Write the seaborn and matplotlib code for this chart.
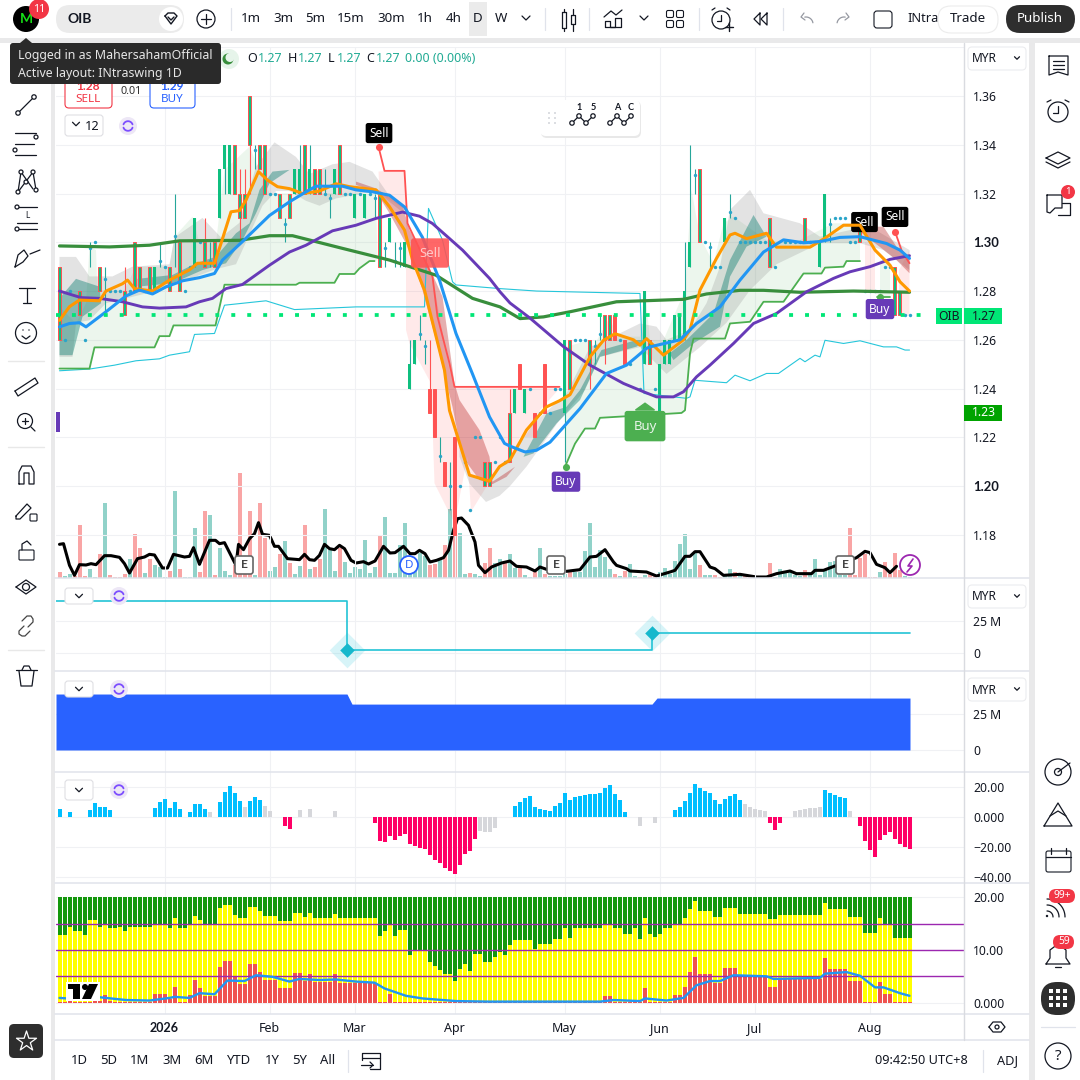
import numpy as np
import pandas as pd
import matplotlib
matplotlib.use('Agg')
import matplotlib.pyplot as plt
from matplotlib.patches import Circle, FancyBboxPatch, Polygon
import seaborn as sns

# --- bars, one value per session ---
volume = [17, 5, 11, 5, 158, 5, 26, 3, 71, 224,
          8, 3, 3, 11, 56, 131, 89, 14, 56, 38,
          32, 3, 20, 260, 26, 3, 3, 149, 17, 200,
          188, 8, 89, 20, 8, 40, 314, 20, 200, 10,
          224, 119, 20, 32, 71, 110, 44, 11, 35, 158,
          26, 32, 56, 206, 83, 20, 89, 47, 14, 32,
          26, 113, 14, 32, 128, 182, 14, 14, 98, 164,
          12, 23, 74, 65, 38, 41, 56, 98, 206, 400,
          134, 11, 14, 11, 5, 44, 89, 44, 56, 47,
          71, 29, 35, 8, 3, 17, 89, 11, 5, 5,
          5, 13, 17, 17, 17, 80, 164, 32, 83, 62,
          26, 11, 5, 20, 41, 5, 3, 8, 14, 5,
          17, 29, 11, 50, 101, 131, 26, 74, 38, 8,
          8, 8, 2, 8, 26, 17, 11, 5, 5, 2,
          2, 2, 44, 2, 26, 20, 17, 8, 5, 23,
          11, 56, 8, 26, 47, 50, 10, 10, 149, 8,
          59, 73, 2, 2, 17, 47, 11, 74, 23, 5, 2]
volume_red = [0, 3, 4, 5, 8, 10, 11, 12, 13, 15, 16, 18, 22, 24, 28, 29, 31, 35, 36, 37, 38, 40, 41,
              44, 46, 49, 51, 52, 56, 64, 74, 75, 77, 79, 82, 85, 86, 89, 92, 95, 97, 102, 111, 113,
              116, 118, 119, 128, 131, 132, 135, 137, 138, 142, 149, 158, 159, 160, 161, 162, 163,
              165, 166, 167, 168]

hist = [5.6, 0, 3.6, 0, 0, 0, 4.9, 9.6, 6.9, 6.9,
        4.9, 0, 0, 0, 0, 0, 0, 0, 0, 6.2,
        10.2, 12.2, 6.2, 10.2, 5.6, 0, 3.6, 8.9, 8.9, 5.6,
        3.6, 0, 10.2, 16.9, 20.9, 16.2, 10.9, 6.9, 10.9, 13.6,
        11.6, 7.6, 4.2, 0, 0, -5.8, -7.8, 0, 4.9, 0,
        5.6, 0, 0, 0, 0, 4.2, 0, 0, 0, 0,
        0, 0, 0, -3.8, -15.8, -16.4, -12.4, -15.1, -12.4, -11.1,
        -17.8, -19.1, -20.4, -21.1, -25.1, -28.4, -30.4, -33.8, -35.8, -37.8,
        -31.8, -24.4, -22.4, -14.4, -9.1, -9.8, -9.8, -7.1, 0, 0,
        0, 7.6, 10.2, 12.9, 14.2, 6.9, 5.6, 4.9, 4.2, 7.6,
        9.6, 16.2, 11.6, 13.6, 14.2, 14.9, 15.6, 15.6, 16.2, 19.6,
        21.6, 15.6, 11.6, 3.6, 0, 0, -5.8, 0, 0, -3.8,
        0, 0, 0, 4.9, 6.9, 10.9, 16.2, 22.2, 19.6, 17.6,
        16.2, 11.6, 8.9, 12.2, 14.2, 15.6, 11.6, 8.9, 6.9, 5.6,
        4.9, 4.2, -3.8, -8.4, -3.8, 0, 0, 4.2, 4.9, 5.6,
        6.2, 6.2, 6.9, 18.2, 16.2, 14.9, 13.6, 12.9, 4.2, 0,
        -5.8, -15.8, -21.8, -26.4, -15.1, -11.8, -9.8, -14.4, -17.8, -19.8, -21.1]
hist_gray = [30, 37, 41, 42, 48, 50, 55, 84, 85, 86, 87, 116, 119, 137, 138, 139, 140, 141,
             147, 148, 149, 150, 151, 152, 158]

stack_top = [20.0] * 171
yellow_top = [12.8, 12.8, 14.3, 13.5, 13.5, 12.8, 15.6, 15.6, 14.3, 14.8,
              14.1, 14.1, 14.3, 13.5, 14.3, 14.3, 14.3, 14.3, 14.3, 14.8,
              14.8, 14.8, 14.1, 16.0, 14.1, 14.1, 14.8, 16.5, 15.6, 14.8,
              14.8, 14.8, 17.9, 18.6, 18.6, 16.7, 16.0, 16.0, 18.2, 18.2,
              17.3, 16.4, 16.4, 16.4, 15.4, 15.4, 15.4, 17.1, 17.1, 16.2,
              17.1, 16.0, 16.0, 16.0, 16.0, 16.9, 16.0, 16.0, 16.0, 16.0,
              16.0, 16.0, 16.0, 16.0, 12.6, 13.5, 14.7, 12.6, 13.7, 13.7,
              9.0, 9.9, 9.9, 9.9, 7.7, 6.9, 6.2, 5.4, 5.4, 4.1,
              6.4, 7.3, 6.0, 9.2, 9.2, 7.7, 7.7, 8.6, 9.7, 9.0,
              10.9, 11.8, 11.8, 11.8, 11.8, 10.1, 11.1, 11.1, 11.1, 12.0,
              12.0, 14.1, 12.2, 14.1, 14.1, 14.1, 14.1, 14.1, 14.1, 14.8,
              14.8, 14.1, 14.1, 13.0, 13.0, 14.1, 12.0, 16.0, 13.1, 12.4,
              13.1, 14.1, 14.1, 14.8, 14.8, 16.0, 17.7, 19.2, 17.3, 17.3,
              17.3, 16.2, 16.2, 17.9, 17.9, 17.9, 16.9, 16.9, 16.9, 16.9,
              16.9, 16.9, 15.8, 15.8, 16.7, 16.7, 16.7, 16.7, 16.7, 16.7,
              16.7, 16.7, 16.7, 19.0, 17.7, 17.7, 17.7, 17.7, 16.2, 16.2,
              16.2, 13.3, 13.3, 13.3, 16.0, 14.7, 14.7, 12.2, 12.2, 12.2, 12.2]
red_top = [.1, .1, .4, .1, .1, .1, .1, .6, .3, 1.4,
           .3, .1, .1, .1, .1, .1, .1, .1, .1, 1.6,
           1.6, 1.6, .7, 3.0, .1, .1, 1.4, 4.3, 2.8, 1.3,
           1.3, 1.3, 6.7, 7.9, 7.9, 4.8, 3.5, 3.5, 7.3, 7.3,
           5.8, 4.3, 4.3, 4.3, 2.8, 2.8, 2.8, 5.6, 5.6, 4.1,
           5.4, 3.9, 3.9, 3.9, 3.9, 5.4, 3.7, 3.7, 3.7, 3.7,
           3.7, 3.7, 3.7, 3.7, .1, .1, 1.6, .1, .1, .1,
           .1, .1, .1, .1, .1, .1, .1, .1, .1, .1,
           .1, .1, .1, .1, .1, .1, .1, .1, .1, .1,
           .1, .1, .1, .1, .1, .1, .1, .1, .1, .1,
           .1, .1, .1, .1, .1, .1, .1, .1, .1, 1.3,
           1.3, .1, .1, .1, .1, .1, .1, 2.8, .1, .1,
           .1, .1, .1, 1.4, 1.4, 3.0, 5.8, 8.6, 5.4, 5.4,
           5.4, 3.7, 3.7, 6.5, 6.5, 6.5, 5.0, 5.0, 5.0, 5.0,
           5.0, 5.0, 3.0, 3.0, 4.5, 4.5, 4.5, 4.5, 4.5, 4.5,
           4.5, 4.5, 4.5, 8.4, 6.4, 6.4, 6.4, 6.4, 4.1, 4.1,
           4.1, .1, .1, .1, 3.9, 1.6, 1.6, .1, .1, .1, .1]

# --- candles: session, body top, body bottom, high, low ---
green_i = [19, 27, 32, 33, 34, 47, 48, 50, 55, 59, 61, 66, 69, 70, 71, 91, 93, 101, 117, 120, 121, 122,
           123, 124, 125, 126, 133, 152, 153]
green_top = [1.29, 1.31, 1.33, 1.34, 1.34, 1.33, 1.33, 1.33, 1.33, 1.32, 1.32, 1.31, 1.30, 1.25, 1.26, 1.24,
             1.24, 1.26, 1.28, 1.25, 1.26, 1.26, 1.27, 1.27, 1.28, 1.30, 1.31, 1.30, 1.32]
green_bot = [1.28, 1.29, 1.31, 1.33, 1.32, 1.32, 1.32, 1.32, 1.32, 1.31, 1.31, 1.30, 1.29, 1.24, 1.25, 1.23,
             1.23, 1.23, 1.25, 1.23, 1.25, 1.25, 1.26, 1.26, 1.26, 1.29, 1.30, 1.29, 1.30]
green_high = [1.29, 1.31, 1.33, 1.34, 1.34, 1.33, 1.34, 1.34, 1.33, 1.32, 1.32, 1.31, 1.30, 1.26, 1.26, 1.24,
              1.24, 1.26, 1.28, 1.25, 1.26, 1.26, 1.27, 1.27, 1.30, 1.34, 1.31, 1.30, 1.32]
green_low = [1.28, 1.29, 1.31, 1.32, 1.32, 1.32, 1.32, 1.32, 1.32, 1.31, 1.31, 1.30, 1.29, 1.24, 1.25, 1.23,
             1.23, 1.21, 1.25, 1.23, 1.25, 1.25, 1.26, 1.26, 1.26, 1.29, 1.30, 1.29, 1.30]

red_i = [0, 4, 8, 13, 15, 16, 18, 22, 24, 29, 31, 35, 36, 37, 38, 40, 41, 44, 46, 49, 51, 52, 56, 64,
         74, 75, 77, 79, 85, 86, 90, 92, 95, 97, 102, 106, 109, 110, 111, 113, 118, 128, 142, 149, 160, 167, 168]
red_body_top = [1.29, 1.28, 1.29, 1.28, 1.30, 1.29, 1.29, 1.29, 1.30, 1.30, 1.30, 1.34, 1.32, 1.32, 1.36, 1.34,
                1.34, 1.32, 1.32, 1.34, 1.33, 1.33, 1.34, 1.32,
                1.24, 1.24, 1.21, 1.22, 1.21, 1.21, 1.23, 1.25, 1.23, 1.25, 1.26, 1.26, 1.27, 1.27, 1.27, 1.26,
                1.26, 1.33, 1.31, 1.31, 1.31, 1.29, 1.28]
red_bot = [1.26, 1.27, 1.28, 1.27, 1.28, 1.28, 1.28, 1.28, 1.28, 1.29, 1.29, 1.32, 1.31, 1.31, 1.34, 1.33,
           1.32, 1.31, 1.31, 1.32, 1.32, 1.32, 1.32, 1.29,
           1.23, 1.22, 1.20, 1.18, 1.20, 1.20, 1.21, 1.24, 1.22, 1.23, 1.24, 1.25, 1.26, 1.26, 1.26, 1.25,
           1.25, 1.30, 1.29, 1.30, 1.30, 1.27, 1.27]
red_high = [1.29, 1.28, 1.29, 1.29, 1.30, 1.29, 1.29, 1.29, 1.30, 1.31, 1.30, 1.34, 1.33, 1.33, 1.36, 1.34,
            1.34, 1.32, 1.32, 1.34, 1.33, 1.33, 1.34, 1.32,
            1.26, 1.24, 1.21, 1.22, 1.21, 1.21, 1.24, 1.25, 1.23, 1.25, 1.26, 1.26, 1.27, 1.27, 1.27, 1.26,
            1.26, 1.33, 1.31, 1.31, 1.31, 1.29, 1.28]
red_low = [1.26, 1.27, 1.28, 1.27, 1.28, 1.28, 1.28, 1.28, 1.28, 1.29, 1.29, 1.32, 1.30, 1.31, 1.32, 1.33,
           1.32, 1.31, 1.31, 1.32, 1.32, 1.32, 1.32, 1.29,
           1.23, 1.22, 1.20, 1.18, 1.20, 1.20, 1.21, 1.24, 1.22, 1.23, 1.24, 1.24, 1.25, 1.26, 1.26, 1.25,
           1.25, 1.30, 1.29, 1.30, 1.30, 1.27, 1.27]
red_solid = [74, 75, 77, 79, 92, 95, 97, 111, 113]

flat_i = [1, 2, 5, 7, 10, 11, 12, 14, 17, 21, 25, 26, 28, 42, 43, 57, 58, 60, 62, 80, 81, 82, 83, 84, 87, 88, 89,
          94, 96, 98, 99, 100, 103, 104, 105, 112, 114, 116, 119, 129, 131, 132, 135, 136, 137, 138, 139, 140, 141,
          143, 145, 146, 147, 148, 150, 151, 155, 156, 157, 158, 159, 161, 162, 163, 164, 165, 166, 169, 170]
flat_p = [1.26, 1.28, 1.26, 1.30, 1.28, 1.28, 1.28, 1.28, 1.28, 1.29, 1.28, 1.29, 1.30, 1.32, 1.32, 1.32, 1.32,
          1.32, 1.32, 1.20, 1.21, 1.19, 1.22, 1.22, 1.21, 1.22, 1.21,
          1.24, 1.23, 1.23, 1.24, 1.24, 1.26, 1.26, 1.26, 1.26, 1.25, 1.24, 1.24, 1.30, 1.29, 1.29, 1.31, 1.30,
          1.30, 1.30, 1.30, 1.30, 1.30, 1.29, 1.30, 1.30, 1.30, 1.30, 1.30, 1.30, 1.31, 1.31, 1.31, 1.30, 1.30,
          1.28, 1.28, 1.28, 1.28, 1.29, 1.29, 1.27, 1.27]
doji_i = [6, 9, 20, 23, 30, 39, 45, 53, 54, 63, 65, 67, 68, 72, 73, 76, 78, 107, 108, 127, 130, 134, 154]
doji_p = [1.2975, 1.285, 1.2925, 1.3025, 1.2925, 1.338, 1.3075, 1.32, 1.318, 1.318, 1.2975, 1.2925, 1.2975,
          1.2625, 1.2575, 1.2125, 1.20, 1.2575, 1.2625, 1.3275, 1.298, 1.3125, 1.3075]
doji_high = [1.30, 1.29, 1.30, 1.32, 1.30, 1.34, 1.31, 1.33, 1.32, 1.32, 1.30, 1.30, 1.30, 1.27, 1.26, 1.22, 1.21,
             1.26, 1.27, 1.33, 1.30, 1.32, 1.31]
doji_low = [1.29, 1.27, 1.29, 1.29, 1.29, 1.33, 1.30, 1.32, 1.31, 1.31, 1.29, 1.29, 1.29, 1.26, 1.25, 1.21, 1.19,
            1.25, 1.26, 1.32, 1.29, 1.31, 1.30]

# --- moving averages, read as corner points (session, price) ---
orange_i = [0, 2, 4, 8, 9.3, 12.6, 13.6, 15, 18.6, 22, 26, 27.6, 31, 32.3, 34.3, 36, 37.3, 39.8, 41.6, 43.6, 46, 48.6,
            52, 55.3, 58, 63.3, 66, 69, 70.6, 73, 77, 78, 82, 86, 88, 90.1, 93.4, 97.4, 100, 102.1, 106.1, 108.8,
            111.1, 114.8, 116.1, 117.4, 120.8, 124.8, 126.1, 128.1, 131.4, 134.1, 135.1, 137.4, 141.4, 143.4, 150.1,
            153.1, 156.8, 160.1, 163.1, 166.1, 168.1, 170]
orange_p = [1.268, 1.2736, 1.2763, 1.276, 1.28, 1.283, 1.2845, 1.281, 1.28, 1.2845, 1.2887, 1.2914, 1.2914, 1.2995,
            1.3125, 1.313, 1.3173, 1.329, 1.3255, 1.3228, 1.322, 1.32, 1.321, 1.324, 1.3228, 1.3215, 1.3146, 1.305,
            1.2927, 1.2804, 1.2475, 1.231, 1.2045, 1.202, 1.208, 1.2107, 1.223, 1.2325, 1.235, 1.2375, 1.253, 1.2598,
            1.2625, 1.26, 1.2578, 1.2605, 1.2537, 1.26, 1.264, 1.2804, 1.2934, 1.303, 1.3037, 1.3015, 1.3037, 1.298,
            1.298, 1.3017, 1.307, 1.307, 1.2968, 1.2906, 1.2838, 1.28]
blue_i = [0, 2, 4, 5.3, 9.3, 13.3, 16, 18.6, 21.3, 24.6, 28, 31, 32.6, 36.6, 42, 46, 49.3, 51.3, 56.6, 59.3, 62.6, 66,
          69, 72.6, 76, 79.3, 82.6, 86, 89, 90.1, 93.1, 95.4, 98.1, 104.1, 109.4, 113.4, 115.4, 117.4, 118.1, 124.1,
          127.4, 132.1, 136.1, 140.8, 144.8, 148.8, 152.1, 156.1, 160.1, 165.4, 168.1, 170]
blue_p = [1.2653, 1.2667, 1.267, 1.2653, 1.2715, 1.278, 1.2804, 1.2788, 1.2817, 1.2842, 1.2855, 1.2872, 1.2927, 1.3003,
          1.311, 1.3166, 1.3207, 1.323, 1.323, 1.3215, 1.3207, 1.3193, 1.3145, 1.302, 1.2845, 1.2626, 1.246, 1.2284,
          1.2175, 1.2164, 1.214, 1.2147, 1.218, 1.2318, 1.2462, 1.2496, 1.253, 1.2565, 1.2571, 1.26, 1.2667, 1.2735,
          1.2845, 1.296, 1.301, 1.2998, 1.3003, 1.302, 1.3023, 1.2995, 1.2968, 1.2934]
purple_i = [0, 4.3, 8, 12.6, 16.6, 20, 25.3, 28, 30.6, 33.3, 36.6, 42, 46, 49.3, 54.6, 59.3, 63.3, 68.6, 72, 74.6, 80.6,
            86, 88.1, 90.1, 94.1, 100.8, 106.1, 112.8, 116.8, 119.4, 122.8, 124.8, 127.4, 130.1, 134.8, 138.8, 143.4,
            149.4, 154.8, 158.1, 162.1, 166.1, 170]
purple_p = [1.28, 1.2773, 1.277, 1.2756, 1.2735, 1.273, 1.2735, 1.2756, 1.277, 1.281, 1.2827, 1.2906, 1.296, 1.2988,
            1.3047, 1.307, 1.3098, 1.3124, 1.3107, 1.3077, 1.2968, 1.2852, 1.2797, 1.2751, 1.2689, 1.2572, 1.2496,
            1.2421, 1.2387, 1.2366, 1.2366, 1.2387, 1.2448, 1.2496, 1.2585, 1.2667, 1.2708, 1.2797, 1.2852, 1.2879,
            1.29, 1.293, 1.2945]
dgreen_i = [0, 10, 18, 24, 36, 42, 46.6, 56.6, 66, 75.3, 82.6, 88.1, 92.1, 96.8, 102.1, 111.4, 124.8, 129.4, 136.1,
            140.8, 148.1, 158.8, 170]
dgreen_p = [1.2985, 1.2981, 1.2988, 1.3006, 1.3008, 1.3027, 1.3027, 1.2975, 1.2927, 1.2865, 1.277, 1.2735, 1.2687,
            1.2694, 1.2715, 1.2756, 1.2766, 1.2788, 1.2803, 1.2803, 1.2795, 1.28, 1.2795]
cyan_i = [0, 6, 11, 15.3, 20, 22, 26, 27, 31, 33, 41.3, 47, 59.3, 73, 73.8, 76.6, 78.6, 79.3, 88.1, 95.4, 116.1, 116.9,
          125.4, 126.1, 127.1, 133.4, 135.1, 138.1, 141.4, 143.8, 148.1, 149.1, 151.1, 152.1, 153.1, 156.8, 160.1,
          164.8, 167.4, 169.1, 170]
cyan_p = [1.2473, 1.248, 1.2496, 1.2514, 1.2522, 1.2537, 1.2551, 1.2622, 1.2626, 1.2742, 1.276, 1.2724, 1.2735, 1.2735,
          1.3139, 1.3009, 1.2838, 1.2825, 1.281, 1.28, 1.279, 1.238, 1.236, 1.2366, 1.2434, 1.2424, 1.2455, 1.2432,
          1.2462, 1.2462, 1.2524, 1.251, 1.2537, 1.253, 1.2598, 1.2585, 1.2596, 1.2571, 1.2571, 1.2558, 1.2558]

trail1_i = [0, 6, 7, 19, 20, 22, 22.8, 31.2, 33, 47.3, 48, 55, 56, 59, 60, 62, 63]
trail1_p = [1.2482, 1.2482, 1.2569, 1.2569, 1.2615, 1.2615, 1.2659, 1.2659, 1.2826, 1.2826, 1.2834, 1.2834, 1.287,
            1.287, 1.2893, 1.2923, 1.2923]
trail2_i = [101.1, 103.1, 105.1, 107.1, 108.1, 124.4, 125.1, 126.1, 126.8, 133.1, 134.1, 138.1, 140.8, 144.8, 148.8,
            152.4, 153.1, 156.8, 157.4, 160.1]
trail2_p = [1.2079, 1.2174, 1.2236, 1.2236, 1.228, 1.23, 1.2311, 1.2544, 1.2605, 1.2605, 1.2667, 1.2674, 1.2756,
            1.2756, 1.2872, 1.2872, 1.2896, 1.29, 1.2923, 1.2923]
trail3_i = [163.4, 166.1]
trail3_p = [1.2776, 1.2776]
sell1_i = [63.8, 65, 69, 69.6, 74.6, 75.6, 78, 79, 100]
sell1_p = [1.3392, 1.3293, 1.3293, 1.3078, 1.2859, 1.2695, 1.2503, 1.2407, 1.2407]
sell2_i = [167.1, 168.4, 170]
sell2_p = [1.3044, 1.2968, 1.2914]

# --- shaded bands ---
upper1_i = [0, 3.3, 5.3, 6, 7.3, 7.6, 13, 15.3, 22, 23, 26.6, 28, 31.3, 33, 38, 40, 42, 63.3, 63.6]
upper1_p = [1.2736, 1.2667, 1.275, 1.2982, 1.2968, 1.2804, 1.2804, 1.29, 1.29, 1.3023, 1.3105, 1.2996, 1.2996, 1.3297,
            1.3392, 1.3297, 1.3201, 1.3201, 1.2927]
upper2_i = [101.1, 101.4, 106.1, 106.8, 110.1, 111.4, 116.1, 117.1, 118.1, 120.8, 125.1, 126.4, 128.1, 130.8, 132.8,
            134.8, 141.4, 146.8, 154.8, 160.1]
upper2_p = [1.2079, 1.2572, 1.2599, 1.2572, 1.2695, 1.2613, 1.2613, 1.2804, 1.2599, 1.2599, 1.2804, 1.3215, 1.3023,
            1.2914, 1.3078, 1.3105, 1.3009, 1.2996, 1.3078, 1.3078]
gray1_i = [0, 3.3, 6, 10.6, 14.6, 22, 23, 28.6, 32.3, 36, 39.3, 43, 47.3, 50, 54.6, 58, 62.6, 66, 70,
           70, 63.3, 55.3, 52, 49.3, 46, 43.3, 40.6, 35.3, 31.3, 26, 19.3, 9.3, 6, 3.3, 2.6, 0]
gray1_p = [1.294, 1.294, 1.286, 1.286, 1.29, 1.291, 1.302, 1.31, 1.302, 1.308, 1.331, 1.341, 1.335, 1.328, 1.332, 1.333,
           1.329, 1.319, 1.312,
           1.31, 1.321, 1.318, 1.315, 1.317, 1.321, 1.321, 1.315, 1.291, 1.289, 1.285, 1.28, 1.275, 1.268, 1.267, 1.253,
           1.253]
gray2_i = [80, 82, 85.3, 88, 90.1, 93.4, 100, 105.1, 108.1, 116.1, 121.4, 128.1, 133.4, 138.1, 143.4, 152.1, 160.1, 164.8,
           170, 170, 162.1, 158.1, 152.1, 148.1, 140.8, 138.1, 134.1, 132.1, 129.4, 126.1, 121.4, 119.4, 116.1, 109.4,
           106.1, 101.4, 94.8, 90.8, 88, 86, 82, 80]
gray2_p = [1.212, 1.201, 1.1935, 1.196, 1.2, 1.208, 1.227, 1.2394, 1.253, 1.257, 1.246, 1.257, 1.267, 1.2804, 1.291,
           1.2996, 1.2996, 1.2968, 1.2886, 1.2968, 1.3064, 1.305, 1.3023, 1.3078, 1.3119, 1.3215, 1.3133, 1.29, 1.275,
           1.264, 1.26, 1.2654, 1.2667, 1.26, 1.257, 1.238, 1.2257, 1.2134, 1.208, 1.2025, 1.2045, 1.219]
teal1_i = [0, 3.3, 8, 8.3, 4.6, 2.6, 0]
teal1_p = [1.277, 1.285, 1.2818, 1.275, 1.2695, 1.2537, 1.2537]
teal2_i = [15.6, 22.6, 27.3, 31.3, 35.3, 38, 40, 42.6, 46, 42, 39.3, 36.6, 33.3, 28.6, 22.6, 15.6]
teal2_p = [1.285, 1.2866, 1.2914, 1.2941, 1.3037, 1.3078, 1.3215, 1.329, 1.3297, 1.3242, 1.3119, 1.3009, 1.2914, 1.2886,
           1.2832, 1.2818]
teal3_i = [92.8, 97.4, 101.4, 104.1, 108.4, 115.4, 117.4, 115.4, 108.1, 104.1, 99.4, 94.8]
teal3_p = [1.212, 1.2298, 1.2325, 1.2394, 1.2558, 1.2599, 1.2599, 1.2572, 1.253, 1.2353, 1.2257, 1.2134]
teal4_i = [122, 125.4, 130.8, 134.1, 138.8, 141.4, 137.4, 134.1, 132.1, 126.8, 122.8]
teal4_p = [1.2544, 1.2599, 1.2708, 1.2927, 1.3112, 1.3023, 1.2982, 1.2859, 1.2654, 1.2585, 1.2517]
rose1_i = [59.3, 63.3, 68.6, 70, 73.3, 76.6, 79, 80, 84, 86, 86.6, 91.1, 89.4, 86.6, 84, 80.6, 78.6, 75.3, 72.6, 70, 66,
           63.3, 59.3]
rose1_p = [1.3249, 1.3221, 1.3153, 1.305, 1.2927, 1.2777, 1.2421, 1.2353, 1.223, 1.212, 1.2018, 1.2079, 1.2038, 1.2008,
           1.2025, 1.212, 1.2325, 1.2599, 1.2804, 1.2968, 1.3119, 1.3208, 1.3235]
rose2_i = [160.5, 164.8, 167.4, 170, 170, 167.4, 164, 160.5]
rose2_p = [1.3064, 1.3064, 1.2982, 1.2927, 1.2873, 1.2927, 1.2982, 1.3037]
pale1_i = [63.8, 65, 69, 69.6, 74.6, 78, 79, 100, 100, 96.1, 94.8, 92.1, 90.1, 88.1, 86, 82.3, 81.6, 79, 75, 74.3, 70,
           69.3, 69.3, 64]
pale1_p = [1.329, 1.3293, 1.3293, 1.3078, 1.2859, 1.2476, 1.2407, 1.2407, 1.24, 1.2312, 1.2202, 1.2202, 1.2093, 1.2079,
           1.2018, 1.1894, 1.212, 1.1847, 1.2011, 1.2421, 1.2585, 1.264, 1.3132, 1.3201]
pale2_i = [161.1, 163.1, 163.1, 161.1]
pale2_p = [1.30, 1.2982, 1.2804, 1.2804]
pale3_i = [167.9, 170, 170, 167.9]
pale3_p = [1.2886, 1.2968, 1.27, 1.27]
green3_i = [164, 166.1, 166.1, 164]
green3_p = [1.2927, 1.2927, 1.2776, 1.2776]

# --- black oscillator laid over the volume bars ---
black_i = [0, 0.8, 2, 3, 4, 5.3, 6.3, 7.3, 9, 10.3, 12, 13, 14, 15.6, 17, 18, 19, 20.6, 21.6, 22.8, 25, 26, 26.8, 28, 30,
           31.2, 32, 33, 35.3, 35.8, 36.8, 38, 39, 39.8, 40.6, 42, 43, 43.8, 45.6, 48, 49, 50, 51, 52, 53, 54, 55, 56,
           57, 58.3, 59.3, 60.8, 61.8, 63.1, 64.8, 66.1, 67.1, 68.8, 70.1, 71.1, 72, 73.1, 74.1, 75.4, 76.8, 77.8, 78.8,
           79.6, 80.4, 81.8, 83.1, 83.8, 85.1, 86.4, 88.4, 90.1, 91.4, 93.4, 95.1, 96.1, 97.4, 101.4, 104.1, 106.1,
           107.4, 109.1, 110.8, 111.4, 113.4, 114.1, 117.4, 119.4, 122.1, 123.1, 125.1, 126.1, 127.1, 128.1, 130.1,
           131.1, 132.8, 136.1, 139.4, 141.4, 143.4, 146.1, 147.4, 150.4, 151.1, 152.8, 154.9, 159.4, 161.1, 162.1,
           163.4, 165.1, 166.1, 167.4]
black_v = [101, 103, 38, 8, 40, 39, 43, 40, 67, 67, 62, 43, 15, 58, 63, 71, 69, 30, 30, 71, 63, 65, 91, 41, 113,
           113, 103, 106, 38, 101, 85, 118, 133, 166, 131, 128, 95, 95, 58, 55, 71, 55, 53, 68, 101, 88, 85, 98,
           88, 53, 45, 49, 42, 51, 95, 75, 76, 95, 73, 73, 83, 73, 48, 53, 61, 83, 143,
           178, 180, 158, 108, 38, 16, 33, 45, 51, 35, 33, 21, 33, 26, 20, 25, 63,
           65, 85, 48, 38, 28, 21, 18, 6, 18, 23, 65, 65, 79, 79, 33,
           28, 8, 11, 3, 3, 13, 21, 13, 13, 23, 23, 35, 61, 80, 76,
           41, 31, 16, 35]

stack_line_i = [0, 3.3, 7.3, 13.3, 18, 22, 23, 26, 28, 31, 33.6, 37, 39.3, 42.6, 46, 48, 52, 55.3, 59.3, 63, 65, 69.3,
                72.6, 79.3, 85.9, 108.1, 110.8, 116.1, 117.1, 121.4, 124.8, 127.4, 130.1, 132.1, 134.8, 141.4, 142.8,
                152.1, 153.1, 157.4, 160.1, 163.1, 164.8, 168.1, 170]
stack_line_v = [0.9, 0.7, 1.1, 0.5, 0.4, 0.9, 1.1, 0.9, 1.8, 1.6, 4.2, 4.1, 5.2, 4.9, 4.0, 4.5, 4.3, 4.4, 4.0, 3.8, 2.7,
                1.3, 0.8, 0.3, 0.2, 0.2, 0.5, 0.3, 0.8, 0.4, 0.9, 3.3, 4.1, 4.1, 5.2, 5.0, 4.5, 4.7, 5.5, 5.8, 5.1, 2.9,
                2.9, 1.8, 1.3]

# --- the two lower panes, millions ---
step_i = [-0.7, 57.5, 57.5, 118.5, 118.5, 170.1]
step_m = [41.0, 41.0, 2.3, 2.3, 15.6, 15.6]
cross_i = [57.5, 118.5]
cross_m = [2.3, 15.6]
area_i = [-0.7, 57.5, 58.5, 118.5, 119.5, 170.1]
area_m = [38.9, 38.9, 31.9, 31.9, 36.1, 36.1]

month_i = [21, 42, 59, 79, 101, 120, 139, 162]
month_labels = ['2026', 'Feb', 'Mar', 'Apr', 'May', 'Jun', 'Jul', 'Aug']
price_ticks = [1.18, 1.20, 1.22, 1.24, 1.26, 1.28, 1.30, 1.32, 1.34, 1.36, 1.38]
last_price = 1.27

sessions = np.arange(171)
X0, X1 = -0.7, 180.9
INK = '#131722'
GRID = '#f0f1f4'
BOLD = 'Lato'

sns.set_theme(style='white')
plt.rcParams['font.family'] = ['Noto Sans', 'DejaVu Sans']
plt.rcParams['axes.unicode_minus'] = False

fig = plt.figure(figsize=(10.8, 10.8), dpi=100, facecolor='white')


def pane(y0, y1, ylim, yticks, labels):
    ax = fig.add_axes([56 / 1080, 1 - y1 / 1080, 908 / 1080, (y1 - y0) / 1080])
    style_pane(ax, ylim, yticks, labels)
    return ax


def style_pane(ax, ylim, yticks, labels):
    ax.set_xlim(X0, X1)
    ax.set_ylim(*ylim)
    ax.set_xticks(month_i)
    ax.set_xticklabels([])
    ax.set_yticks(yticks)
    ax.set_yticklabels(labels, fontsize=8.8, color=INK)
    ax.yaxis.tick_right()
    ax.tick_params(axis='both', length=0, pad=6.5)
    ax.grid(True, color=GRID, linewidth=0.8)
    ax.set_axisbelow(True)
    ax.set_xlabel('')
    ax.set_ylabel('')
    for spine in ax.spines.values():
        spine.set_visible(False)


def line(ax, x, y, color, lw, z=5):
    sns.lineplot(x=x, y=y, sort=False, estimator=None, color=color, linewidth=lw, legend=False, ax=ax, zorder=z)


def bars(ax, x, y, kinds, palette):
    sns.barplot(data=pd.DataFrame({'x': x, 'y': y, 'k': kinds}), x='x', y='y', hue='k', palette=palette,
                native_scale=True, dodge=False, width=0.8, saturation=1, linewidth=0, legend=False, ax=ax)


# volume sits under the price pane on its own scale
vol_ax = pane(47, 578, (0, 1593), [], [])
vol_ax.grid(False)
vol_kind = ['red' if i in volume_red else 'teal' for i in sessions]
bars(vol_ax, sessions, volume, vol_kind, {'red': '#f9a5a5', 'teal': '#91d2c9'})
line(vol_ax, black_i, black_v, 'black', 2.2)
style_pane(vol_ax, (0, 1593), [], [])
vol_ax.grid(False)

price_labels = ['%.2f' % p for p in price_ticks[:-1]] + ['']
ax = pane(47, 578, (1.1623, 1.3801), price_ticks, price_labels)
ax.set_zorder(2)
ax.patch.set_visible(False)
for lab, p in zip(ax.get_yticklabels(), price_ticks):
    if p in (1.20, 1.30):
        lab.set_fontfamily(BOLD)
        lab.set_fontweight('bold')
        lab.set_fontsize(9.4)

# shaded regions, palest first
ax.fill(upper1_i + trail1_i[::-1], upper1_p + trail1_p[::-1], color='#4caf50', alpha=0.1, lw=0, zorder=1)
ax.fill(upper2_i + trail2_i[::-1], upper2_p + trail2_p[::-1], color='#4caf50', alpha=0.1, lw=0, zorder=1)
ax.fill(green3_i, green3_p, color='#4caf50', alpha=0.1, lw=0, zorder=1)
ax.fill(pale1_i, pale1_p, color='#ff5252', alpha=0.12, lw=0, zorder=1)
ax.fill(pale2_i, pale2_p, color='#ff5252', alpha=0.12, lw=0, zorder=1)
ax.fill(pale3_i, pale3_p, color='#ff5252', alpha=0.12, lw=0, zorder=1)
ax.fill(gray1_i, gray1_p, color='#8a8a8a', alpha=0.24, lw=0, zorder=1.5)
ax.fill(gray2_i, gray2_p, color='#8a8a8a', alpha=0.24, lw=0, zorder=1.5)
for xs, ys in [(teal1_i, teal1_p), (teal2_i, teal2_p), (teal3_i, teal3_p), (teal4_i, teal4_p)]:
    ax.fill(xs, ys, color='#00796b', alpha=0.4, lw=0, zorder=1.8)
for xs, ys in [(rose1_i, rose1_p), (rose2_i, rose2_p)]:
    ax.fill(xs, ys, color='#b71c1c', alpha=0.35, lw=0, zorder=1.8)

# candles
ax.vlines(green_i, green_low, green_high, color='#26a69a', lw=0.8, zorder=3)
ax.vlines(red_i, red_low, red_high, color='#ff5252', lw=0.8, zorder=3)
ax.vlines(doji_i, doji_low, doji_high, color='#26a69a', lw=0.8, zorder=3)
ax.bar(green_i, np.subtract(green_top, green_bot), bottom=green_bot, width=0.68, color='#0fbf7f', lw=0, zorder=3.2)
red_fill = ['#ff5252' if i in red_solid else '#0fbf7f' for i in red_i]
ax.bar(red_i, np.subtract(red_body_top, red_bot), bottom=red_bot, width=0.56, color=red_fill, edgecolor='#ff5252',
       lw=0.7, zorder=3.2)
sns.scatterplot(x=flat_i + doji_i, y=flat_p + doji_p, color='#2ba5c9', s=6, linewidth=0, legend=False, ax=ax, zorder=3.4)

# trailing stops and averages
line(ax, cyan_i, cyan_p, '#26c6da', 0.8, z=3.6)
line(ax, trail1_i, trail1_p, '#4caf50', 1.3, z=3.6)
line(ax, trail2_i, trail2_p, '#4caf50', 1.3, z=3.6)
line(ax, trail3_i, trail3_p, '#4caf50', 1.3, z=3.6)
line(ax, sell1_i, sell1_p, '#ff5252', 1.3, z=3.6)
line(ax, sell2_i, sell2_p, '#ff5252', 1.3, z=3.6)
line(ax, dgreen_i, dgreen_p, '#388e3c', 2.3, z=4)
line(ax, purple_i, purple_p, '#673ab7', 2.1, z=4.1)
line(ax, orange_i, orange_p, '#ff9800', 2.2, z=4.2)
line(ax, blue_i, blue_p, '#2196f3', 2.2, z=4.3)
ax.plot([X0, 174.5], [last_price, last_price], color='#00e676', lw=2.7, ls=(0, (1.05, 3.2)), zorder=4.5)

sns.scatterplot(x=[63.8, 167.1], y=[1.3392, 1.3044], color='#ff5252', s=26, linewidth=0, legend=False, ax=ax, zorder=5)
sns.scatterplot(x=[101.2, 164.1], y=[1.2079, 1.2776], color='#4caf50', s=26, linewidth=0, legend=False, ax=ax, zorder=5)

for i, p, s, fc, z in [(63.9, 1.3448, 'Sell', 'black', 6),
                       (161, 1.3083, 'Sell', 'black', 3.5),
                       (167.1, 1.3104, 'Sell', 'black', 6),
                       (101.3, 1.2018, 'Buy', '#673ab7', 6),
                       (164.1, 1.2726, 'Buy', '#673ab7', 6)]:
    ax.text(i, p, s, ha='center', va='center', fontsize=8.6, color='white', zorder=z,
            bbox=dict(boxstyle='round,pad=0.3,rounding_size=0.2', fc=fc, ec='none'))
ax.text(74.1, 1.2956, 'Sell', ha='center', va='center', fontsize=9.5, color='#ffc9c9', zorder=4.9,
        bbox=dict(boxstyle='round,pad=0.62,rounding_size=0.2', fc='#ff5252', ec='none', alpha=0.88))
ax.text(117.1, 1.2246, 'Buy', ha='center', va='center', fontsize=9.5, color='#e8f5e9', zorder=5,
        bbox=dict(boxstyle='round,pad=0.66,rounding_size=0.2', fc='#4caf50', ec='none'))
ax.add_patch(Polygon([(115.2, 1.2312), (117.1, 1.2340), (119, 1.2312)], color='#4caf50', zorder=5))

# step pane
ax2 = pane(578, 671, (-14, 58.6), [0, 25], ['0', '25 M'])
line(ax2, step_i, step_m, '#22c3d6', 1.2)
sns.scatterplot(x=cross_i, y=cross_m, marker='D', s=330, color='#26c6da', alpha=0.18, linewidth=0, legend=False, ax=ax2, zorder=6)
sns.scatterplot(x=cross_i, y=cross_m, marker='D', s=55, color='#16b8cc', linewidth=0, legend=False, ax=ax2, zorder=7)

# area pane
ax3 = pane(671, 772, (-15.3, 54.9), [0, 25], ['0', '25 M'])
ax3.fill_between(area_i, 0, area_m, color='#2962ff', lw=0, zorder=3)

# histogram pane
hist_kind = ['gray' if i in hist_gray else ('neg' if hist[i] < 0 else 'pos') for i in sessions]
ax4 = pane(772, 883, (-43.7, 30.3), [-40, -20, 0, 20], ['\u221240.00', '\u221220.00', '0.000', '20.00'])
bars(ax4, sessions, hist, hist_kind, {'gray': '#d6d7db', 'neg': '#ff0066', 'pos': '#00bfff'})
style_pane(ax4, (-43.7, 30.3), [-40, -20, 0, 20], ['\u221240.00', '\u221220.00', '0.000', '20.00'])

# stacked pane
ax5 = pane(883, 1014, (-2.15, 22.7), [0, 10, 20], ['0.000', '10.00', '20.00'])
one = ['a'] * 171
bars(ax5, sessions, stack_top, one, {'a': '#14980c'})
bars(ax5, sessions, yellow_top, one, {'a': '#ffff00'})
bars(ax5, sessions, red_top, one, {'a': '#ef5350'})
style_pane(ax5, (-2.15, 22.7), [0, 10, 20], ['0.000', '10.00', '20.00'])
for level in (15, 10, 5):
    ax5.axhline(level, color='#9c27b0', lw=1.0, zorder=5)
line(ax5, stack_line_i, stack_line_v, '#2196f3', 1.7, z=6)

# month axis lives under the last pane
ax5.set_xticks(month_i)
ax5.set_xticklabels(month_labels, fontsize=9, color=INK)
ax5.tick_params(axis='x', pad=5.5)
ax5.get_xticklabels()[0].set_fontfamily(BOLD)
ax5.get_xticklabels()[0].set_fontweight('bold')

# --- application chrome, in screen pixels ---
ui = fig.add_axes([0, 0, 1, 1], zorder=10)
ui.set_xlim(0, 1080)
ui.set_ylim(1080, 0)
ui.axis('off')
ui.patch.set_visible(False)


def rbox(x0, y0, x1, y1, r, fc='white', ec='none', lw=0.8, z=1, alpha=None):
    ui.add_patch(FancyBboxPatch((x0, y0), x1 - x0, y1 - y0, boxstyle='round,pad=0,rounding_size=%s' % r, fc=fc, ec=ec,
                                lw=lw, zorder=z, alpha=alpha))


def rect(x0, y0, x1, y1, fc, z=0.5):
    ui.fill([x0, x1, x1, x0], [y0, y0, y1, y1], color=fc, lw=0, zorder=z)


def circ(x, y, r, fc='none', ec=INK, lw=0.9, z=2):
    ui.add_patch(Circle((x, y), r, fc=fc, ec=ec, lw=lw, zorder=z))


def txt(x, y, s, size=9.5, color=INK, ha='center', weight='normal', z=3):
    family = BOLD if weight == 'bold' else None
    ui.text(x, y, s, fontsize=size, color=color, ha=ha, va='center', fontweight=weight, zorder=z, family=family)


def path(pts, lw=0.9, color=INK, z=2):
    xs, ys = zip(*pts)
    ui.plot(xs, ys, color=color, lw=lw, zorder=z, solid_capstyle='round', solid_joinstyle='round')


def arc(cx, cy, r, a0, a1, lw=0.9, color=INK, z=2):
    t = np.radians(np.linspace(a0, a1, 24))
    ui.plot(cx + r * np.cos(t), cy - r * np.sin(t), color=color, lw=lw, zorder=z, solid_capstyle='round')


def chevron(x, y, w=4, color=INK, lw=0.9):
    path([(x - w, y - w / 2), (x, y + w / 2), (x + w, y - w / 2)], lw=lw, color=color, z=4)


PAGE = '#e9e9ea'
SEP = '#e0e3eb'
rect(0, 38, 1080, 43, PAGE)
rect(51, 43, 55, 1080, PAGE)
rect(1029, 43, 1035, 1080, PAGE)
# pane rules
for y in (578, 671, 772, 883, 1014, 1040):
    path([(55, y), (1029, y)], lw=1.1, color=SEP, z=1)
path([(964, 43), (964, 1040)], lw=1.0, color='#d9dbe0', z=1)

# top bar
circ(26, 19, 13, fc='black', ec='none')
txt(26, 19, 'M', size=10, color='#16e016', weight='bold')
circ(39, 9, 10, fc='#f23645', ec='none', z=3)
txt(39, 9, '11', size=7.5, color='white', z=4)
rbox(56, 5, 184, 33, 14, fc='#ebebeb')
txt(68, 19, 'OIB', size=10, weight='bold', ha='left')
circ(171, 19, 12, fc='white', ec='none')
path([(165, 16), (168, 13), (174, 13), (177, 16), (171, 24), (165, 16)], lw=1.0)
path([(168, 17), (171, 20), (174, 17)], lw=1.0)
circ(206, 19, 9)
path([(201, 19), (211, 19)])
path([(206, 14), (206, 24)])
rect(469, 2, 487, 36, '#ebebeb', z=1)
for x, s in [(251, '1m'), (283, '3m'), (315, '5m'), (351, '15m'), (391, '30m'), (425, '1h'), (454, '4h'), (478, 'D'), (501, 'W')]:
    txt(x, 19, s, size=9.6)
chevron(526, 18)
for x in (231, 545, 589, 699, 783):
    path([(x, 8), (x, 30)], color='#e0e3eb')
# candle glyph
for x0, ya, yb in [(562, 12, 28), (571, 15, 24)]:
    path([(x0, ya), (x0 + 4, ya), (x0 + 4, yb), (x0, yb), (x0, ya)])
    path([(x0 + 2, 9), (x0 + 2, ya)])
    path([(x0 + 2, yb), (x0 + 2, 31)])
# indicators glyph
path([(604, 17), (611, 11), (616, 15), (622, 10)])
path([(605, 27), (605, 21), (610, 21), (610, 27), (615, 27), (615, 18), (621, 18), (621, 27), (605, 27)])
chevron(644, 18)
for cx, cy in [(670, 14), (680, 14), (670, 24), (680, 24)]:
    rbox(cx - 3.5, cy - 3.5, cx + 3.5, cy + 3.5, 1.5, ec=INK)
circ(721, 20, 9)
path([(721, 15), (721, 21), (717, 21)])
path([(712, 10), (715, 8)])
path([(730, 10), (727, 8)])
path([(725, 27), (733, 27)], lw=1.0)
path([(729, 23), (729, 31)], lw=1.0)
path([(760, 13), (754, 19), (760, 25), (760, 13)])
path([(767, 13), (761, 19), (767, 25), (767, 13)])
path([(804, 13), (801, 17), (805, 20)], color='#9598a1')
arc(806, 24, 7, 100, 10, color='#9598a1')
path([(846, 13), (849, 17), (845, 20)], color='#9598a1')
arc(844, 24, 7, 80, 170, color='#9598a1')
rbox(874, 11, 892, 28, 3, ec=INK)
txt(907, 19, 'INtra', size=9.3, ha='left', z=0.8)
rbox(938, 6, 998, 33, 13, fc='white', ec='#ececec')
txt(968, 19, 'Trade', size=9.6)
rbox(1006, 5, 1075, 33, 14, fc='#2e2e2e')
txt(1040, 19, 'Publish', size=9.6, color='white')

# legend row
circ(229, 59, 10, fc='#e6f4ea', ec='none')
circ(228, 59, 5.5, fc='#388e3c', ec='none', z=2.1)
circ(230, 57.5, 4.5, fc='#e6f4ea', ec='none', z=2.2)
for x, s in [(252, 'O'), (292, 'H'), (331, 'L'), (370, 'C')]:
    txt(x, 59, s, size=9)
for x in (258, 298, 337, 376):
    txt(x, 59, '1.27', size=9, color='#22ab94', ha='left')
txt(405, 59, '0.00 (0.00%)', size=9, color='#22ab94', ha='left')

# buy / sell widget
rbox(65, 76, 112, 108, 4, ec='#f23645')
rbox(150, 76, 195, 108, 4, ec='#2962ff')
txt(88, 87, '1.28', size=8.6, color='#f23645', weight='bold')
txt(172, 87, '1.29', size=8.6, color='#2962ff', weight='bold')
txt(88, 99, 'SELL', size=8.4, color='#f23645')
txt(172, 99, 'BUY', size=8.4, color='#2962ff')
txt(131, 91, '0.01', size=7.8, color='#333333')

# tooltip goes over the widget
rbox(10, 43, 221, 84, 3, fc='#2a2a2a', z=5)
ui.fill([20, 26, 32], [43, 38, 43], color='#2a2a2a', lw=0, zorder=5)
txt(18, 55, 'Logged in as MahersahamOfficial', size=8.9, color='#e6e6e6', ha='left', z=6)
txt(18, 73, 'Active layout: INtraswing 1D', size=8.9, color='#e6e6e6', ha='left', z=6)

rbox(65, 115, 103, 136, 3, ec='#dfdfe3')
chevron(76, 124, w=3.5)
txt(92, 126, '12', size=9.2)


def sync(x, y):
    circ(x, y, 9, fc='#ede7f6', ec='none')
    arc(x, y, 4.8, 20, 160, lw=1.3, color='#7c4dff', z=3)
    arc(x, y, 4.8, 200, 340, lw=1.3, color='#7c4dff', z=3)


sync(128, 126)
for y in (596, 689):
    rbox(65, y - 8, 93, y + 8, 3, ec='#dfdfe3')
    chevron(79, y, w=3.5)
sync(119, 596)
sync(119, 689)
rbox(65, 780, 93, 800, 3, ec='#dfdfe3')
chevron(79, 790, w=3.5)
sync(119, 790)

# floating wave toolbar
rbox(541, 101, 641, 138, 6, fc='#e8e8e8', z=1.8)
rbox(540, 100, 640, 136, 6, fc='white', z=1.9)
for px in (549, 555):
    for py in (113, 118, 123):
        circ(px, py, 0.9, fc='#c9ccd3', ec='none', z=3)
for xs, lab in [(572, ('1', '5')), (610, ('A', 'C'))]:
    pts = [(xs, 123), (xs + 7, 116), (xs + 14, 123), (xs + 21, 116)]
    path(pts, z=3)
    for p in pts:
        circ(p[0], p[1], 2.2, fc='white', z=3.2)
    txt(xs + 7, 108, lab[0], size=6.6, weight='bold')
    txt(xs + 21, 108, lab[1], size=6.6, weight='bold')

# price scale boxes
for y0 in (47, 585, 678):
    rbox(968, y0, 1026, y0 + 23, 4, ec='#ebecef')
    txt(984, y0 + 12, 'MYR', size=8.6)
    chevron(1017, y0 + 11, w=2.5)
rect(936, 308, 962, 324, '#00e676', z=3)
txt(949, 316, 'OIB', size=8.8)
rect(964, 308, 1002, 324, '#00e676', z=3)
txt(984, 316, '1.27', size=8.8)
rect(964, 405, 1002, 421, '#00a300', z=3)
txt(984, 413, '1.23', size=8.8, color='white')
rect(56, 412, 60, 432, '#673ab7', z=3)

# event markers
for x in (244, 556, 845):
    rbox(x - 9, 556, x + 9, 574, 2.5, fc='white', ec='#666666', lw=1.2, z=3)
    txt(x, 565, 'E', size=8.6, color='#444444', weight='bold', z=4)
circ(409, 565, 9, fc='white', ec='#2962ff', lw=1.3, z=3)
txt(409, 565, 'D', size=8.4, color='#2962ff', z=4)
circ(910, 565, 10, fc='white', ec='#9c27b0', lw=1.3, z=3)
path([(913, 559), (908, 566), (912, 566), (907, 572)], color='#9c27b0', lw=1.2, z=4)

# tradingview mark
rect(66, 982, 100, 1001, 'white', z=2)
rect(68, 984, 80, 989, 'black', z=2.5)
rect(73, 984, 80, 999, 'black', z=2.5)
circ(85, 987, 3, fc='black', ec='none', z=2.5)
ui.fill([89, 98, 91, 82], [984, 984, 999, 999], color='black', lw=0, zorder=2.5)

# left tools
path([(18, 113), (34, 97)])
circ(18, 113, 2.2, fc='white')
circ(34, 97, 2.2, fc='white')
for y, xe in ((133, 36), (144, 34), (155, 36)):
    path([(15, y), (xe, y)])
circ(36, 137, 2, fc='white')
circ(15, 150, 2, fc='white')
for seg in [[(18, 192), (21, 172)], [(21, 172), (33, 189)], [(33, 172), (18, 192)], [(33, 172), (36, 190)]]:
    path(seg)
for p in [(18, 192), (21, 172), (33, 172), (36, 190), (26, 182)]:
    circ(p[0], p[1], 2, fc='white')
path([(17, 207), (37, 207)])
path([(17, 223), (37, 223)])
path([(17, 229), (37, 229)])
txt(27, 215, 'L', size=6)
circ(17, 207, 2, fc='white')
circ(17, 229, 2, fc='white')
path([(15, 267), (23, 262), (28, 256), (24, 250), (18, 255), (15, 267)])
path([(30, 254), (40, 250)])
path([(19, 288), (35, 288)])
path([(27, 288), (27, 303)])
path([(23, 303), (31, 303)])
circ(26, 333, 10.5)
path([(22, 336), (26, 339), (30, 336)])
circ(23, 330, 0.7, fc=INK, ec='none')
circ(29, 330, 0.7, fc=INK, ec='none')
path([(15, 391), (35, 378), (38, 383), (18, 396), (15, 391)])
circ(25, 421, 7.5)
path([(22, 421), (28, 421)])
path([(25, 418), (25, 424)])
path([(31, 427), (35, 431)])
path([(19, 484), (19, 472), (22, 466), (31, 466), (34, 472), (34, 484), (29, 484), (29, 473), (24, 473), (24, 484), (19, 484)])
path([(16, 516), (27, 504), (31, 508), (20, 519), (16, 519), (16, 516)])
rbox(30, 514, 37, 521, 1, ec=INK)
rbox(19, 550, 34, 560, 1, ec=INK)
path([(22, 550), (22, 544), (27, 541), (31, 545)])
path([(16, 587), (26, 580), (36, 587), (26, 594), (16, 587)])
circ(26, 587, 3.5)
path([(24, 626), (19, 631), (19, 634), (22, 636), (25, 636), (30, 631)], color='#444444')
path([(28, 627), (33, 622), (33, 619), (31, 616), (27, 616), (22, 621)], color='#444444')
path([(19, 671), (21, 686), (32, 686), (34, 671)])
path([(16, 670), (37, 670)])
path([(22, 670), (24, 666), (29, 666), (31, 670)])
for y in (361, 447, 650):
    path([(8, y), (44, y)], color='#e8e8e8', lw=1.0)
rbox(9, 1024, 43, 1058, 5, fc='#2e2e2e')
ui.scatter([26], [1041], marker='*', s=230, fc='#2e2e2e', ec='white', lw=0.9, zorder=3)

# right tools
path([(1049, 56), (1068, 56), (1068, 75), (1058, 72), (1049, 75), (1049, 56)])
for y in (61, 65, 69):
    path([(1053, y), (1064, y)])
circ(1058, 112, 10)
path([(1058, 106), (1058, 113), (1053, 113)])
path([(1047, 102), (1051, 100)])
path([(1069, 102), (1065, 100)])
path([(1046, 158), (1058, 152), (1070, 158), (1058, 164), (1046, 158)])
path([(1046, 162), (1058, 168), (1070, 162)])
path([(1047, 195), (1062, 195), (1062, 208), (1055, 208), (1050, 213), (1047, 212), (1047, 195)])
path([(1062, 203), (1070, 203), (1070, 215), (1058, 215)])
circ(1068, 192, 7, fc='#f23645', ec='none', z=3)
txt(1068, 192, '1', size=7, color='white', z=4)
circ(1058, 772, 13)
circ(1058, 772, 3.5)
path([(1058, 772), (1070, 763)])
path([(1044, 826), (1058, 803), (1072, 826), (1044, 826)])
path([(1050, 816), (1058, 811), (1066, 816)])
rbox(1046, 851, 1071, 872, 2, ec=INK)
path([(1046, 857), (1071, 857)])
path([(1051, 848), (1051, 854)])
path([(1066, 848), (1066, 854)])
circ(1047, 916, 1.2, fc=INK, ec='none')
for r in (6, 12, 18):
    arc(1047, 917, r, 0, 90)
rbox(1049, 889, 1075, 903, 7, fc='#f23645', z=3)
txt(1062, 896, '99+', size=7.4, color='white', z=4)
path([(1046, 964), (1070, 964), (1066, 958), (1066, 950), (1058, 944), (1050, 950), (1050, 958), (1046, 964)])
path([(1055, 967), (1061, 967)])
rbox(1053, 935, 1074, 949, 7, fc='#f23645', z=3)
txt(1064, 942, '59', size=7.4, color='white', z=4)
rbox(1041, 982, 1075, 1015, 16, fc='#2e2e2e')
for gx in (1051, 1058, 1065):
    for gy in (991, 998, 1005):
        rect(gx - 2, gy - 2, gx + 2, gy + 2, 'white', z=3)
path([(1041, 1027), (1075, 1027)], color='#e0e3eb')
circ(1058, 1056, 13)
txt(1058, 1056, '?', size=11)

# bottom strip
for x, s in [(79, '1D'), (109, '5D'), (140, '1M'), (172, '3M'), (204, '6M'), (239, 'YTD'), (272, '1Y'), (300, '5Y'), (328, 'All')]:
    txt(x, 1061, s, size=9.4)
path([(348, 1050), (348, 1072)], color='#e0e3eb')
path([(362, 1060), (362, 1053), (380, 1053), (380, 1069), (370, 1069)])
path([(362, 1058), (380, 1058)])
path([(361, 1065), (373, 1065)])
path([(370, 1062), (373, 1065), (370, 1068)])
txt(875, 1061, '09:42:50 UTC+8', size=9.2, ha='left')
path([(983, 1050), (983, 1072)], color='#e0e3eb')
txt(1008, 1061, 'ADJ', size=9.2)
path([(989, 1027), (993, 1022), (1001, 1022), (1005, 1027), (1001, 1032), (993, 1032), (989, 1027)])
circ(997, 1027, 2)

fig.savefig('out.png', dpi=100, facecolor='white')
